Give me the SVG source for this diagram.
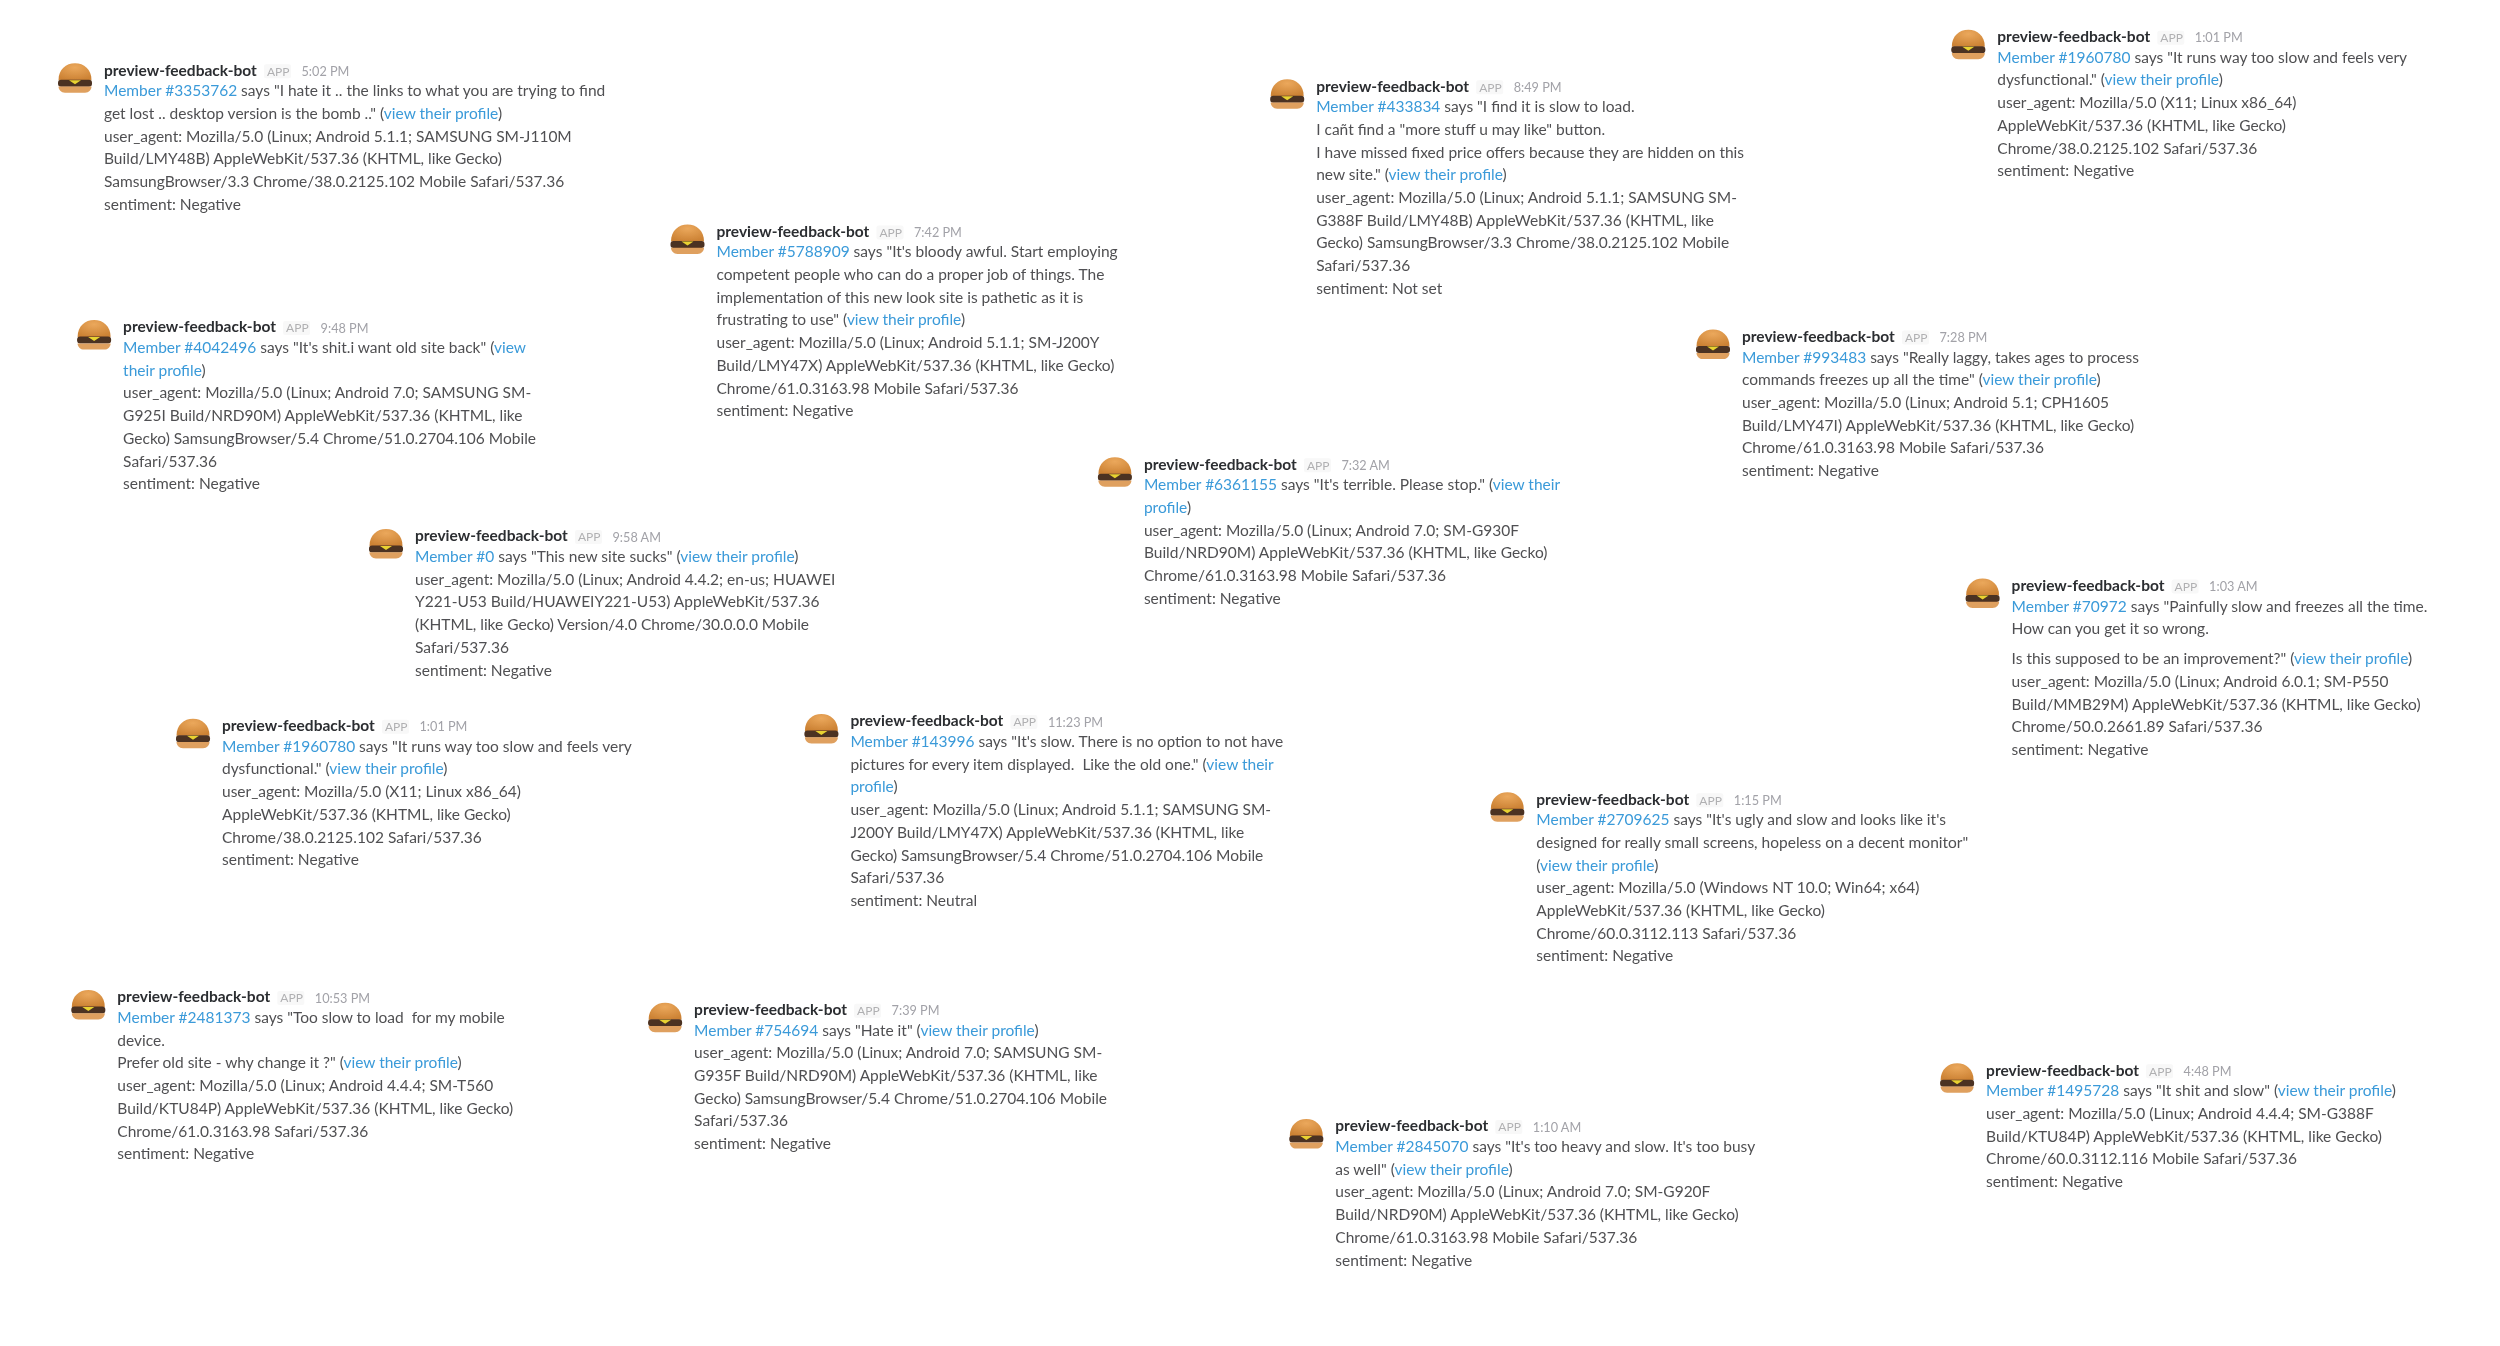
<svg xmlns="http://www.w3.org/2000/svg" width="2500" height="1346" viewBox="0 0 2500 1346">
<style>
text{font-family:Lato,"Noto Sans",sans-serif;font-size:15.5px;fill:#505052;white-space:pre}
.n{font-weight:700;fill:#2c2d30}
.a{font-size:12px;fill:#b0b0b2}
.t{font-size:12.7px;fill:#a2a2a8}
.l{fill:#3a9ad9}
</style>
<defs>
<radialGradient id="bun" cx="0.5" cy="0.25" r="0.75"><stop offset="0" stop-color="#eba85c"/><stop offset="1" stop-color="#cc8234"/></radialGradient>
<filter id="soft" x="0" y="0" width="2500" height="1346" filterUnits="userSpaceOnUse"><feGaussianBlur stdDeviation="0.6"/></filter>
<g id="head">
<path d="M-45.500 10C-45.500-1-38-7-29-7C-20-7-12.500-1-12.500 10Z" fill="url(#bun)"/>
<rect x="-46" y="9.500" width="34" height="7" rx="3" fill="#4c3120"/>
<path d="M-35 10H-23L-29 14Z" fill="#e8d230"/>
<path d="M-45.500 16.300H-12.500C-12.500 19.500-15 22.500-19 22.500H-39C-43 22.500-45.500 19.500-45.500 16.300Z" fill="#dfa05e"/>
<rect x="160" y="-6" width="27" height="14" rx="2" fill="#f8f8f8"/>
<text class="n" x="0" y="5.300">preview-feedback-bot</text>
<text class="a" x="163" y="5.300">APP</text>
</g>
</defs>
<rect width="2500" height="1346" fill="#fff"/>
<g filter="url(#soft)"><g transform="translate(0.300 0.100)">
<g id="msg1" transform="translate(103.700 70.200)"><use href="#head"/><text class="t" x="197.500" y="5.500">5:02 PM</text>
<text y="26"><tspan class="l">Member #3353762</tspan> says "I hate it .. the links to what you are trying to find</text>
<text y="48.7">get lost .. desktop version is the bomb .." (<tspan class="l">view their profile</tspan>)</text>
<text y="71.4">user_agent: Mozilla/5.0 (Linux; Android 5.1.1; SAMSUNG SM-J110M</text>
<text y="94.1">Build/LMY48B) AppleWebKit/537.36 (KHTML, like Gecko)</text>
<text y="116.8">SamsungBrowser/3.3 Chrome/38.0.2125.102 Mobile Safari/537.36</text>
<text y="139.5">sentiment: Negative</text></g>
<g id="msg2" transform="translate(122.800 327)"><use href="#head"/><text class="t" x="197.500" y="5.500">9:48 PM</text>
<text y="26"><tspan class="l">Member #4042496</tspan> says "It's shit.i want old site back" (<tspan class="l">view</tspan></text>
<text y="48.7"><tspan class="l">their profile</tspan>)</text>
<text y="71.4">user_agent: Mozilla/5.0 (Linux; Android 7.0; SAMSUNG SM-</text>
<text y="94.1">G925I Build/NRD90M) AppleWebKit/537.36 (KHTML, like</text>
<text y="116.8">Gecko) SamsungBrowser/5.4 Chrome/51.0.2704.106 Mobile</text>
<text y="139.5">Safari/537.36</text>
<text y="162.2">sentiment: Negative</text></g>
<g id="msg3" transform="translate(716.200 231.300)"><use href="#head"/><text class="t" x="197.500" y="5.500">7:42 PM</text>
<text y="26"><tspan class="l">Member #5788909</tspan> says "It's bloody awful. Start employing</text>
<text y="48.7">competent people who can do a proper job of things. The</text>
<text y="71.4">implementation of this new look site is pathetic as it is</text>
<text y="94.1">frustrating to use" (<tspan class="l">view their profile</tspan>)</text>
<text y="116.8">user_agent: Mozilla/5.0 (Linux; Android 5.1.1; SM-J200Y</text>
<text y="139.5">Build/LMY47X) AppleWebKit/537.36 (KHTML, like Gecko)</text>
<text y="162.2">Chrome/61.0.3163.98 Mobile Safari/537.36</text>
<text y="184.9">sentiment: Negative</text></g>
<g id="msg4" transform="translate(1315.900 86.100)"><use href="#head"/><text class="t" x="197.500" y="5.500">8:49 PM</text>
<text y="26"><tspan class="l">Member #433834</tspan> says "I find it is slow to load.</text>
<text y="48.7">I cañt find a "more stuff u may like" button.</text>
<text y="71.4">I have missed fixed price offers because they are hidden on this</text>
<text y="94.1">new site." (<tspan class="l">view their profile</tspan>)</text>
<text y="116.8">user_agent: Mozilla/5.0 (Linux; Android 5.1.1; SAMSUNG SM-</text>
<text y="139.5">G388F Build/LMY48B) AppleWebKit/537.36 (KHTML, like</text>
<text y="162.2">Gecko) SamsungBrowser/3.3 Chrome/38.0.2125.102 Mobile</text>
<text y="184.9">Safari/537.36</text>
<text y="207.6">sentiment: Not set</text></g>
<g id="msg5" transform="translate(1997 36.700)"><use href="#head"/><text class="t" x="197.500" y="5.500">1:01 PM</text>
<text y="26"><tspan class="l">Member #1960780</tspan> says "It runs way too slow and feels very</text>
<text y="48.7">dysfunctional." (<tspan class="l">view their profile</tspan>)</text>
<text y="71.4">user_agent: Mozilla/5.0 (X11; Linux x86_64)</text>
<text y="94.1">AppleWebKit/537.36 (KHTML, like Gecko)</text>
<text y="116.8">Chrome/38.0.2125.102 Safari/537.36</text>
<text y="139.5">sentiment: Negative</text></g>
<g id="msg6" transform="translate(1741.700 336.500)"><use href="#head"/><text class="t" x="197.500" y="5.500">7:28 PM</text>
<text y="26"><tspan class="l">Member #993483</tspan> says "Really laggy, takes ages to process</text>
<text y="48.7">commands freezes up all the time" (<tspan class="l">view their profile</tspan>)</text>
<text y="71.4">user_agent: Mozilla/5.0 (Linux; Android 5.1; CPH1605</text>
<text y="94.1">Build/LMY47I) AppleWebKit/537.36 (KHTML, like Gecko)</text>
<text y="116.8">Chrome/61.0.3163.98 Mobile Safari/537.36</text>
<text y="139.5">sentiment: Negative</text></g>
<g id="msg7" transform="translate(1143.600 464.100)"><use href="#head"/><text class="t" x="197.500" y="5.500">7:32 AM</text>
<text y="26"><tspan class="l">Member #6361155</tspan> says "It's terrible. Please stop." (<tspan class="l">view their</tspan></text>
<text y="48.7"><tspan class="l">profile</tspan>)</text>
<text y="71.4">user_agent: Mozilla/5.0 (Linux; Android 7.0; SM-G930F</text>
<text y="94.1">Build/NRD90M) AppleWebKit/537.36 (KHTML, like Gecko)</text>
<text y="116.8">Chrome/61.0.3163.98 Mobile Safari/537.36</text>
<text y="139.5">sentiment: Negative</text></g>
<g id="msg8" transform="translate(414.700 535.900)"><use href="#head"/><text class="t" x="197.500" y="5.500">9:58 AM</text>
<text y="26"><tspan class="l">Member #0</tspan> says "This new site sucks" (<tspan class="l">view their profile</tspan>)</text>
<text y="48.7">user_agent: Mozilla/5.0 (Linux; Android 4.4.2; en-us; HUAWEI</text>
<text y="71.4">Y221-U53 Build/HUAWEIY221-U53) AppleWebKit/537.36</text>
<text y="94.1">(KHTML, like Gecko) Version/4.0 Chrome/30.0.0.0 Mobile</text>
<text y="116.8">Safari/537.36</text>
<text y="139.5">sentiment: Negative</text></g>
<g id="msg9" transform="translate(221.700 725.700)"><use href="#head"/><text class="t" x="197.500" y="5.500">1:01 PM</text>
<text y="26"><tspan class="l">Member #1960780</tspan> says "It runs way too slow and feels very</text>
<text y="48.7">dysfunctional." (<tspan class="l">view their profile</tspan>)</text>
<text y="71.4">user_agent: Mozilla/5.0 (X11; Linux x86_64)</text>
<text y="94.1">AppleWebKit/537.36 (KHTML, like Gecko)</text>
<text y="116.8">Chrome/38.0.2125.102 Safari/537.36</text>
<text y="139.5">sentiment: Negative</text></g>
<g id="msg10" transform="translate(850.100 720.900)"><use href="#head"/><text class="t" x="197.500" y="5.500">11:23 PM</text>
<text y="26"><tspan class="l">Member #143996</tspan> says "It's slow. There is no option to not have</text>
<text y="48.7">pictures for every item displayed.  Like the old one." (<tspan class="l">view their</tspan></text>
<text y="71.4"><tspan class="l">profile</tspan>)</text>
<text y="94.1">user_agent: Mozilla/5.0 (Linux; Android 5.1.1; SAMSUNG SM-</text>
<text y="116.8">J200Y Build/LMY47X) AppleWebKit/537.36 (KHTML, like</text>
<text y="139.5">Gecko) SamsungBrowser/5.4 Chrome/51.0.2704.106 Mobile</text>
<text y="162.2">Safari/537.36</text>
<text y="184.9">sentiment: Neutral</text></g>
<g id="msg11" transform="translate(2011.300 585.400)"><use href="#head"/><text class="t" x="197.500" y="5.500">1:03 AM</text>
<text y="26"><tspan class="l">Member #70972</tspan> says "Painfully slow and freezes all the time.</text>
<text y="48.7">How can you get it so wrong.</text>
<text y="78.7">Is this supposed to be an improvement?" (<tspan class="l">view their profile</tspan>)</text>
<text y="101.4">user_agent: Mozilla/5.0 (Linux; Android 6.0.1; SM-P550</text>
<text y="124.1">Build/MMB29M) AppleWebKit/537.36 (KHTML, like Gecko)</text>
<text y="146.8">Chrome/50.0.2661.89 Safari/537.36</text>
<text y="169.5">sentiment: Negative</text></g>
<g id="msg12" transform="translate(1536 799.100)"><use href="#head"/><text class="t" x="197.500" y="5.500">1:15 PM</text>
<text y="26"><tspan class="l">Member #2709625</tspan> says "It's ugly and slow and looks like it's</text>
<text y="48.7">designed for really small screens, hopeless on a decent monitor"</text>
<text y="71.4">(<tspan class="l">view their profile</tspan>)</text>
<text y="94.1">user_agent: Mozilla/5.0 (Windows NT 10.0; Win64; x64)</text>
<text y="116.8">AppleWebKit/537.36 (KHTML, like Gecko)</text>
<text y="139.5">Chrome/60.0.3112.113 Safari/537.36</text>
<text y="162.2">sentiment: Negative</text></g>
<g id="msg13" transform="translate(117 996.900)"><use href="#head"/><text class="t" x="197.500" y="5.500">10:53 PM</text>
<text y="26"><tspan class="l">Member #2481373</tspan> says "Too slow to load  for my mobile</text>
<text y="48.7">device.</text>
<text y="71.4">Prefer old site - why change it ?" (<tspan class="l">view their profile</tspan>)</text>
<text y="94.1">user_agent: Mozilla/5.0 (Linux; Android 4.4.4; SM-T560</text>
<text y="116.8">Build/KTU84P) AppleWebKit/537.36 (KHTML, like Gecko)</text>
<text y="139.5">Chrome/61.0.3163.98 Safari/537.36</text>
<text y="162.2">sentiment: Negative</text></g>
<g id="msg14" transform="translate(693.800 1009.600)"><use href="#head"/><text class="t" x="197.500" y="5.500">7:39 PM</text>
<text y="26"><tspan class="l">Member #754694</tspan> says "Hate it" (<tspan class="l">view their profile</tspan>)</text>
<text y="48.7">user_agent: Mozilla/5.0 (Linux; Android 7.0; SAMSUNG SM-</text>
<text y="71.4">G935F Build/NRD90M) AppleWebKit/537.36 (KHTML, like</text>
<text y="94.1">Gecko) SamsungBrowser/5.4 Chrome/51.0.2704.106 Mobile</text>
<text y="116.8">Safari/537.36</text>
<text y="139.5">sentiment: Negative</text></g>
<g id="msg15" transform="translate(1335 1126)"><use href="#head"/><text class="t" x="197.500" y="5.500">1:10 AM</text>
<text y="26"><tspan class="l">Member #2845070</tspan> says "It's too heavy and slow. It's too busy</text>
<text y="48.7">as well" (<tspan class="l">view their profile</tspan>)</text>
<text y="71.4">user_agent: Mozilla/5.0 (Linux; Android 7.0; SM-G920F</text>
<text y="94.1">Build/NRD90M) AppleWebKit/537.36 (KHTML, like Gecko)</text>
<text y="116.8">Chrome/61.0.3163.98 Mobile Safari/537.36</text>
<text y="139.5">sentiment: Negative</text></g>
<g id="msg16" transform="translate(1985.800 1070.200)"><use href="#head"/><text class="t" x="197.500" y="5.500">4:48 PM</text>
<text y="26"><tspan class="l">Member #1495728</tspan> says "It shit and slow" (<tspan class="l">view their profile</tspan>)</text>
<text y="48.7">user_agent: Mozilla/5.0 (Linux; Android 4.4.4; SM-G388F</text>
<text y="71.4">Build/KTU84P) AppleWebKit/537.36 (KHTML, like Gecko)</text>
<text y="94.1">Chrome/60.0.3112.116 Mobile Safari/537.36</text>
<text y="116.8">sentiment: Negative</text></g>
</g></g>
</svg>
